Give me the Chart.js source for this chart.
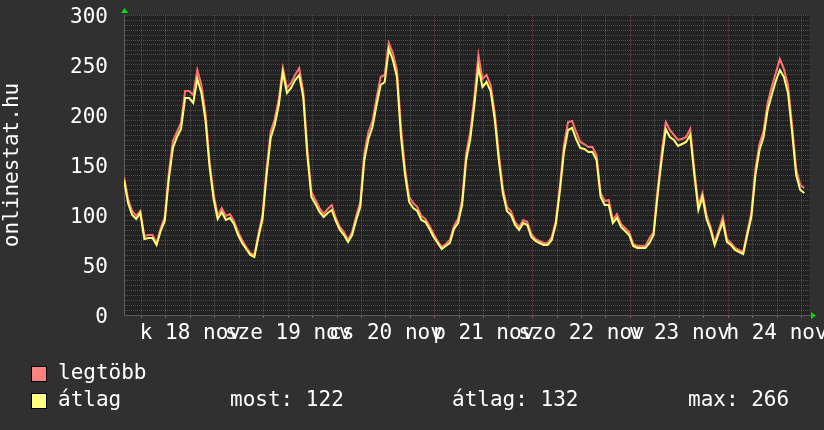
<!DOCTYPE html>
<html><head><meta charset="utf-8">
<script src="https://cdn.jsdelivr.net/npm/chart.js@4/dist/chart.umd.min.js"></script>
<style>html,body{margin:0;padding:0;background:#303030;}canvas{display:block}</style>
</head><body>
<canvas id="c" width="824" height="430"></canvas>
<script>
// hourly samples, starting 17 nov ~19:40
const avgValues = [135,112,100,96,102,76,77,77,70,84,94,136,167,178,186,217,217,212,236,222,195,148,116,96,
103,95,97,91,80,72,66,60,58,78,96,140,177,190,210,243,222,227,235,240,218,160,118,111,
103,98,102,105,94,85,80,73,80,95,108,155,176,188,210,230,233,266,255,238,178,140,113,107,
104,95,93,86,78,72,66,69,72,86,92,110,155,176,210,248,228,233,224,196,155,122,104,100,
90,85,92,90,78,74,72,70,70,75,91,124,163,185,187,176,167,166,163,163,155,118,110,110,
92,97,88,84,80,69,67,67,67,72,80,120,156,186,178,175,169,171,173,180,140,105,118,96,
85,70,82,93,73,70,65,63,61,80,98,140,165,178,205,220,234,245,238,222,183,140,125,122];
const maxValues = [138,116,104,99,104,79,80,80,72,87,98,142,174,183,192,224,224,220,245,230,202,154,121,100,
107,99,101,94,83,75,68,62,60,81,100,146,183,196,216,247,227,232,240,247,224,166,123,115,
107,101,106,110,97,88,83,75,83,99,113,162,183,194,217,238,240,272,262,245,188,146,118,112,
108,99,96,89,81,74,68,71,75,89,96,115,162,183,218,260,236,240,230,203,162,127,108,104,
93,88,95,93,81,76,74,72,72,78,94,129,170,193,194,183,173,171,168,168,160,122,114,115,
95,101,91,87,83,71,69,69,69,77,83,126,163,193,185,180,175,176,178,186,146,110,122,100,
88,72,85,98,76,72,67,65,63,83,102,146,171,184,212,228,242,256,246,230,190,146,130,127];
const dayLabels = ['k 18 nov','sze 19 nov','cs 20 nov','p 21 nov','szo 22 nov','v 23 nov','h 24 nov'];
const yTickLabels = ['0','50','100','150','200','250','300'];
const seriesNames = ['legtöbb','átlag'];
const statLabels = ['most: 122','átlag: 132','max: 266'];
const axisTitle = 'onlinestat.hu';

const FIRST_MIDNIGHT = 4.3;   // hours from left edge to 18 nov 00:00
const X_MAX = 168.4;
const FONT = '"DejaVu Sans Mono", monospace';
const RED = '#ff7272', YEL = '#ffff70';

const hourIndex = avgValues.map((_, i) => i);
const toXY = arr => arr.map((v, i) => ({x: hourIndex[i], y: v}));

const isMidnight = v => Math.abs((v - FIRST_MIDNIGHT) / 24 - Math.round((v - FIRST_MIDNIGHT) / 24)) < 1e-3;
const isNoon = v => Math.abs((v - FIRST_MIDNIGHT - 12) / 24 - Math.round((v - FIRST_MIDNIGHT - 12) / 24)) < 1e-3;

const decor = {
  id: 'decor',
  beforeDraw(chart) {
    const {ctx, chartArea: a} = chart;
    ctx.save();
    ctx.fillStyle = '#303030';
    ctx.fillRect(0, 0, chart.width, chart.height);
    ctx.fillStyle = '#222222';
    ctx.fillRect(a.left, a.top, a.right - a.left, a.bottom - a.top);
    ctx.restore();
  },
  afterDraw(chart) {
    const {ctx, chartArea: a} = chart;
    ctx.save();
    // arrows
    ctx.fillStyle = '#00dd00';
    ctx.beginPath();
    ctx.moveTo(a.left - 3, a.top - 2); ctx.lineTo(a.left + 4, a.top - 2); ctx.lineTo(a.left + 0.5, a.top - 7); ctx.closePath(); ctx.fill();
    ctx.beginPath();
    ctx.moveTo(a.right + 1, a.bottom - 3); ctx.lineTo(a.right + 1, a.bottom + 4); ctx.lineTo(a.right + 6, a.bottom + 0.5); ctx.closePath(); ctx.fill();
    // legend
    ctx.font = '21px ' + FONT;
    ctx.textBaseline = 'middle';
    ctx.textAlign = 'left';
    const rows = [374, 401];
    const boxCols = ['#ff8080', '#ffff80'];
    rows.forEach((y, i) => {
      ctx.fillStyle = boxCols[i];
      ctx.fillRect(31.5, y - 7.5, 15, 15);
      ctx.strokeStyle = '#000';
      ctx.lineWidth = 1;
      ctx.strokeRect(31.5, y - 7.5, 15, 15);
      ctx.fillStyle = '#ffffff';
      ctx.fillText(seriesNames[i], 58, y);
    });
    const statX = [230, 452, 688];
    statLabels.forEach((s, i) => ctx.fillText(s, statX[i], rows[1]));
    ctx.restore();
  }
};

new Chart(document.getElementById('c'), {
  type: 'line',
  data: {
    datasets: [
      {label: seriesNames[0], data: toXY(maxValues), borderColor: RED, borderWidth: 2, pointRadius: 0, order: 1, tension: 0},
      {label: seriesNames[1], data: toXY(avgValues), borderColor: YEL, borderWidth: 2, pointRadius: 0, order: 0, tension: 0}
    ]
  },
  options: {
    responsive: false,
    animation: false,
    devicePixelRatio: 1,
    layout: {padding: {left: 0, top: 15, right: 14, bottom: 0}},
    plugins: {legend: {display: false}, tooltip: {enabled: false}},
    scales: {
      x: {
        type: 'linear', min: 0, max: X_MAX,
        afterFit(s) { s.height = 115; s.paddingLeft = 0; s.paddingRight = 0; },
        afterBuildTicks(s) {
          const t = [];
          for (let v = FIRST_MIDNIGHT; v <= X_MAX; v += 6) t.push({value: v});
          s.ticks = t;
        },
        ticks: {
          autoSkip: false, maxRotation: 0, minRotation: 0, padding: 3,
          color: '#ffffff', font: {family: FONT, size: 21},
          callback(v) {
            if (!isNoon(v)) return '';
            const d = Math.round((v - FIRST_MIDNIGHT - 12) / 24);
            return dayLabels[d] || '';
          }
        },
        grid: {
          drawTicks: true, tickLength: 3, lineWidth: 1,
          color: c => isMidnight(c.tick.value) ? 'rgba(160,60,60,0.7)' : 'rgba(120,120,120,0.5)',
          tickColor: c => isMidnight(c.tick.value) ? 'rgba(200,70,70,0.9)' : 'rgba(140,140,140,0.7)'
        },
        border: {display: true, color: '#5c5c5c', dash: [1, 1]}
      },
      y: {
        type: 'linear', min: 0, max: 300,
        afterFit(s) { s.width = 124; s.paddingTop = 0; s.paddingBottom = 0; },
        afterBuildTicks(s) {
          const t = [];
          for (let v = 0; v <= 300; v += 5) t.push({value: v});
          s.ticks = t;
        },
        ticks: {
          autoSkip: false, padding: 16, labelOffset: 3,
          color: '#ffffff', font: {family: FONT, size: 21},
          callback(v) { return v % 50 === 0 ? yTickLabels[v / 50] : ''; }
        },
        title: {display: true, text: axisTitle, color: '#ffffff', font: {family: FONT, size: 21}, padding: {top: 0, bottom: 0}},
        grid: {
          drawTicks: false, lineWidth: 1,
          color: c => c.tick.value % 50 === 0 ? 'rgba(160,60,60,0.7)' : 'rgba(120,120,120,0.5)'
        },
        border: {display: true, color: '#5c5c5c', dash: [1, 1]}
      }
    }
  },
  plugins: [decor]
});
</script>
</body></html>
